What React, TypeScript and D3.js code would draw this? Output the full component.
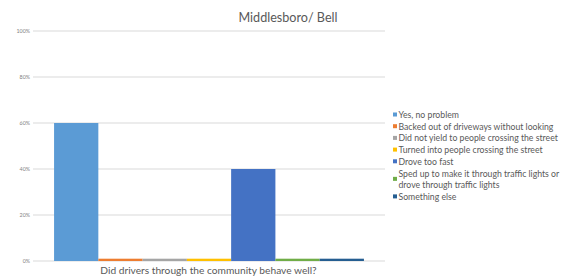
import React from "react";
import * as d3 from "d3";

const title = "Middlesboro/ Bell";
const category = "Did drivers through the community behave well?";
const seriesNames = [
  "Yes, no problem",
  "Backed out of driveways without looking",
  "Did not yield to people crossing the street",
  "Turned into people crossing the street",
  "Drove too fast",
  "Sped up to make it through traffic lights or drove through traffic lights",
  "Something else",
];
const seriesValues = [0.6, 0.01, 0.01, 0.01, 0.4, 0.01, 0.01];
const seriesColors = ["#5B9BD5", "#ED7D31", "#A5A5A5", "#FFC000", "#4472C4", "#70AD47", "#255E91"];
const legendLines = [
  ["Yes, no problem"],
  ["Backed out of driveways without looking"],
  ["Did not yield to people crossing the street"],
  ["Turned into people crossing the street"],
  ["Drove too fast"],
  ["Sped up to make it through traffic lights or", "drove through traffic lights"],
  ["Something else"],
];
const yTicks = [0, 0.2, 0.4, 0.6, 0.8, 1.0];

export default function App() {
  const W = 569, H = 278;
  const plotL = 33, plotR = 385, plotT = 31, plotB = 261;
  const y = d3.scaleLinear().domain([0, 1]).range([plotB, plotT]);
  const x0 = d3.scaleBand().domain([category]).range([plotL, plotR]).paddingOuter(0.068).paddingInner(0);
  const x1 = d3.scaleBand().domain(seriesNames).range([0, x0.bandwidth()]);
  const font = "Lato, 'Open Sans', sans-serif";
  let ly = 115;
  const legendItems: { name: string; lines: string[]; color: string; y: number }[] = [];
  seriesNames.forEach((n, i) => {
    legendItems.push({ name: n, lines: legendLines[i], color: seriesColors[i], y: ly });
    ly += legendLines[i].length === 2 ? 11.7 * 2 : 11.7;
  });
  return (
    <svg width={W} height={H} style={{ position: "absolute", left: 0, top: 0, background: "#fff" }} fontFamily={font}>
      <rect x={0} y={0} width={W} height={H} fill="#fff" />
      <text x={288} y={22} textAnchor="middle" fontSize={12.6} fill="#595959">{title}</text>
      {yTicks.map((t) => (
        <g key={t}>
          <line x1={plotL} x2={plotR} y1={y(t)} y2={y(t)} stroke="#D9D9D9" strokeWidth={1} />
          <text x={30} y={y(t) + 1.8} textAnchor="end" fontSize={5.3} fill="#7f7f7f">{d3.format(".0%")(t)}</text>
        </g>
      ))}
      {seriesNames.map((n, i) => {
        const bx = (x0(category) as number) + (x1(n) as number);
        return (
          <rect key={n} x={bx} y={y(seriesValues[i])} width={x1.bandwidth()} height={plotB - y(seriesValues[i])} fill={seriesColors[i]} />
        );
      })}
      <text x={208.5} y={273.5} textAnchor="middle" fontSize={10.2} fill="#595959">{category}</text>
      {legendItems.map((it) => (
        <g key={it.name}>
          <rect x={393} y={it.y + (it.lines.length === 2 ? 5.85 : 0) - 2.5} width={4} height={4} fill={it.color} />
          {it.lines.map((l, j) => (
            <text key={j} x={398.5} y={it.y + j * 11.7 + 3} fontSize={8.7} fill="#595959">{l}</text>
          ))}
        </g>
      ))}
    </svg>
  );
}
